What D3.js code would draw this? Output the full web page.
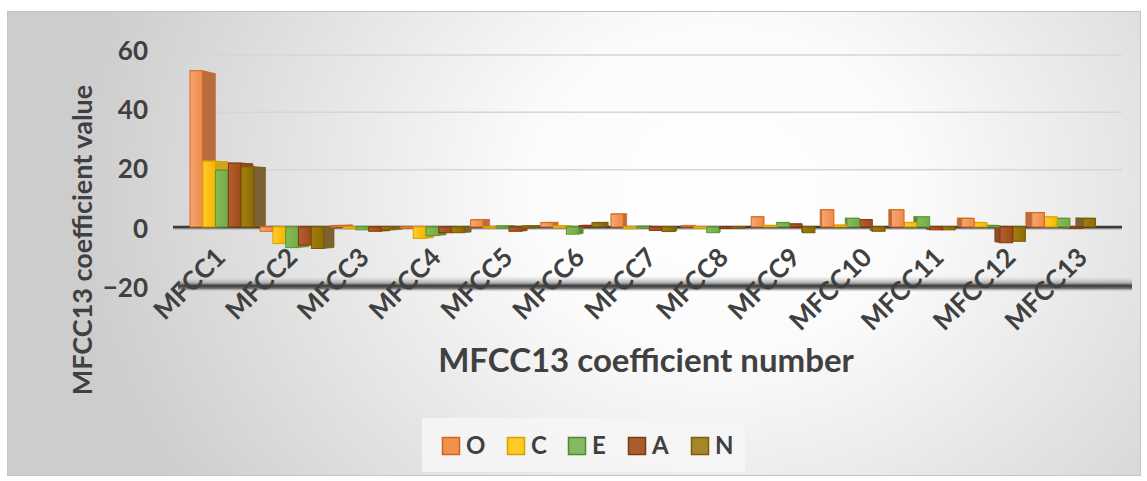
<!DOCTYPE html>
<html>
<head>
<meta charset="utf-8">
<script src="https://cdn.jsdelivr.net/npm/d3@7"></script>
<style>
  body { margin: 0; background: #ffffff; }
  text { font-family: Lato, "Open Sans", sans-serif; font-weight: 700; fill: #404040; }
</style>
</head>
<body>
<svg id="chart" width="1147" height="481"></svg>
<script>
// MFCC coefficient means per personality trait
const categories = ["MFCC1", "MFCC2", "MFCC3", "MFCC4", "MFCC5", "MFCC6", "MFCC7",
                    "MFCC8", "MFCC9", "MFCC10", "MFCC11", "MFCC12", "MFCC13"];
const seriesNames = ["O", "C", "E", "A", "N"];
const valuesO = [54.5, -1.5, 0.5, -0.5, 2.5, 1.5, 4.5, 0.4, 3.5, 6.0, 6.0, 3.0, 5.0];
const valuesC = [23.0, -5.8, -0.6, -4.0, -0.4, 0.3, -0.6, -0.5, 0.5, 0.6, 1.5, 1.5, 3.5];
const valuesE = [19.8, -7.2, -1.0, -3.0, 0.3, -2.5, 0.2, -2.0, 1.5, 3.0, 3.5, 0.5, 3.0];
const valuesA = [22.3, -6.3, -1.5, -2.0, -1.5, 0.5, -1.2, -0.5, 1.0, 2.5, -1.0, -5.5, -0.5];
const valuesN = [21.0, -7.5, -1.0, -2.0, 0.3, 1.5, -1.6, -0.5, -2.0, -1.5, -1.0, -5.0, 3.0];
const yTicks = [-20, 0, 20, 40, 60];

const seriesValues = [valuesO, valuesC, valuesE, valuesA, valuesN];
const palette = {
  O: { front: "#F08A48", light: "#F6A672", stroke: "#D5661C", side: "#B86C40", top: "#F4A06A", key: "#F0914F", keyStroke: "#D0641E" },
  C: { front: "#F5B800", light: "#FFCB2E", stroke: "#D9A000", side: "#CDA41E", top: "#FFD040", key: "#FFCA28", keyStroke: "#D4A000" },
  E: { front: "#72AC44", light: "#86BC5C", stroke: "#5A9430", side: "#5E8A38", top: "#8CC064", key: "#86BA62", keyStroke: "#4E8A2E" },
  A: { front: "#A04A1A", light: "#B0602E", stroke: "#84380E", side: "#8C4C26", top: "#B4643A", key: "#A85C30", keyStroke: "#7C3A12" },
  N: { front: "#8E6B00", light: "#A07E10", stroke: "#775A00", side: "#7C6232", top: "#A88A2A", key: "#A5862A", keyStroke: "#7A6010" }
};

const svg = d3.select("#chart");
const defs = svg.append("defs");

// chart area background: soft radial shading
const bg = defs.append("radialGradient").attr("id", "bgGrad")
  .attr("gradientUnits", "userSpaceOnUse")
  .attr("cx", 720).attr("cy", 190).attr("r", 650)
  .attr("gradientTransform", "translate(720,190) scale(1,0.85) translate(-720,-190)");
bg.append("stop").attr("offset", "0").attr("stop-color", "#ffffff");
bg.append("stop").attr("offset", "0.3").attr("stop-color", "#fbfbfb");
bg.append("stop").attr("offset", "1").attr("stop-color", "#cdcdcd");

svg.append("rect").attr("x", 7.5).attr("y", 11.5).attr("width", 1133).attr("height", 464)
  .attr("fill", "url(#bgGrad)").attr("stroke", "#c4c4c4").attr("stroke-width", 1);

// front-face gradients for each series
seriesNames.forEach(s => {
  const g = defs.append("linearGradient").attr("id", "grad" + s)
    .attr("x1", "0").attr("x2", "1").attr("y1", "0").attr("y2", "0");
  g.append("stop").attr("offset", "0").attr("stop-color", palette[s].light);
  g.append("stop").attr("offset", "1").attr("stop-color", palette[s].front);
});

// floor plate gradient
const fl = defs.append("linearGradient").attr("id", "floorGrad")
  .attr("x1", "0").attr("x2", "0").attr("y1", "0").attr("y2", "1");
fl.append("stop").attr("offset", "0").attr("stop-color", "#e6e6e6").attr("stop-opacity", 0.2);
fl.append("stop").attr("offset", "0.45").attr("stop-color", "#a8a8a8");
fl.append("stop").attr("offset", "0.62").attr("stop-color", "#3c3c3c");
fl.append("stop").attr("offset", "0.8").attr("stop-color", "#6a6a6a");
fl.append("stop").attr("offset", "1").attr("stop-color", "#d0d0d0").attr("stop-opacity", 0.3);

// scales
const y = d3.scaleLinear().domain([-20, 60]).range([284.3, 55]);      // bar values
const yWall = d3.scaleLinear().domain([-20, 60]).range([287, 50]);    // left wall edge
const x = d3.scaleBand().domain(categories).range([190, 1102]);
const xs = d3.scaleBand().domain(seriesNames).range([0, 64]);
const xLabel = d3.scalePoint().domain(categories).range([227, 1089]);

// perspective: faces recede towards a vanishing point
const vp = [767, 204];
const barShrink = 0.977;
const project = (px, py, s) => [vp[0] + (px - vp[0]) * s, vp[1] + (py - vp[1]) * s];
const pts = arr => "M" + arr.map(p => p.join(",")).join("L") + "Z";

const frontW = 12.5;
const wallLeft = 177, wallBack = 207, plotRight = 1122;

// gridlines on the back wall with the short side-wall segment
const gridVals = yTicks.filter(v => v > 0);
svg.append("g").selectAll("path").data(gridVals).join("path")
  .attr("d", v => `M${wallLeft},${yWall(v) - 3}L${wallBack},${y(v)}L${plotRight},${y(v)}`)
  .attr("fill", "none").attr("stroke", "#d6d6d6").attr("stroke-width", 1.5);

// floor at the axis minimum
svg.append("rect").attr("x", 178).attr("y", y(-20) - 8).attr("width", 954).attr("height", 15)
  .attr("fill", "url(#floorGrad)");

// zero baseline
svg.append("line").attr("x1", 173).attr("x2", plotRight).attr("y1", y(0) + 1.8).attr("y2", y(0) + 1.8)
  .attr("stroke", "#a0a0a0").attr("stroke-width", 1.5);
svg.append("line").attr("x1", 173).attr("x2", plotRight).attr("y1", y(0)).attr("y2", y(0))
  .attr("stroke", "#3a3a3a").attr("stroke-width", 2.5);

// bar geometry: front rectangle plus projected back face
const barData = [];
categories.forEach((c, i) => {
  seriesNames.forEach((s, j) => {
    const v = seriesValues[j][i];
    const x0 = x(c) + xs(s), x1 = x0 + frontW;
    const t = Math.min(y(v), y(0)), b = Math.max(y(v), y(0)) + (Math.abs(y(v) - y(0)) < 1 ? 1 : 0);
    barData.push({ cat: c, series: s, value: v, x0, x1, t, b, dist: Math.abs((x0 + x1) / 2 - vp[0]) });
  });
});
// paint far-from-centre bars first so nearer faces overlap them
barData.sort((a, b) => b.dist - a.dist);

const bars = svg.append("g").selectAll("g").data(barData).join("g");
// top face
bars.append("path")
  .attr("d", d => {
    const bl = project(d.x0, d.t, barShrink), br = project(d.x1, d.t, barShrink);
    return pts([[d.x0, d.t], [d.x1, d.t], br, bl]);
  })
  .attr("fill", d => palette[d.series].top)
  .attr("stroke", d => palette[d.series].stroke).attr("stroke-width", 0.6);
// side face (right of the vanishing point shows the left side, otherwise the right side)
bars.append("path")
  .attr("d", d => {
    const ex = (d.x1 < vp[0]) ? d.x1 : d.x0;
    const bt = project(ex, d.t, barShrink), bb = project(ex, d.b, barShrink);
    return pts([[ex, d.t], bt, bb, [ex, d.b]]);
  })
  .attr("fill", d => palette[d.series].side)
  .attr("stroke", d => palette[d.series].stroke).attr("stroke-width", 0.6);
// front face
bars.append("rect")
  .attr("x", d => d.x0)
  .attr("y", d => d.t)
  .attr("width", frontW)
  .attr("height", d => d.b - d.t)
  .attr("fill", d => `url(#grad${d.series})`)
  .attr("stroke", d => palette[d.series].stroke).attr("stroke-width", 1);

// value axis labels
const yAxis = svg.append("g").attr("transform", "translate(148,0)")
  .call(d3.axisLeft(yWall).tickValues(yTicks).tickSize(0).tickPadding(0).tickFormat(d3.format("d")));
yAxis.select(".domain").remove();
yAxis.selectAll("text").attr("font-size", 26).attr("dy", "0.36em")
  .style("font-family", "Lato, sans-serif").style("font-weight", 700).attr("fill", "#404040");

// category labels, slanted
const labelY = 259;
svg.append("g").selectAll("text").data(categories).join("text")
  .attr("x", c => xLabel(c)).attr("y", labelY)
  .attr("transform", c => `rotate(-45 ${xLabel(c)} ${labelY})`)
  .attr("text-anchor", "end")
  .attr("font-size", 26)
  .text(c => c);

// axis titles
svg.append("text").attr("x", 646).attr("y", 372).attr("text-anchor", "middle")
  .attr("font-size", 33).text("MFCC13 coefficient number");
svg.append("text").attr("transform", "translate(92,240) rotate(-90)").attr("text-anchor", "middle")
  .attr("font-size", 27).text("MFCC13 coefficient value");

// legend
svg.append("rect").attr("x", 422).attr("y", 418).attr("width", 323).attr("height", 54)
  .attr("fill", "#f5f5f5").attr("fill-opacity", 0.9);
const legendX = [442, 507, 568, 628, 691];
const legend = svg.append("g").selectAll("g").data(seriesNames).join("g")
  .attr("transform", (s, i) => `translate(${legendX[i]},437)`);
legend.append("rect").attr("x", 0.5).attr("y", 0.5).attr("width", 17).attr("height", 17)
  .attr("fill", s => palette[s].key).attr("stroke", s => palette[s].keyStroke).attr("stroke-width", 1.5);
legend.append("text").attr("x", 24).attr("y", 17).attr("font-size", 24).text(s => s);
</script>
</body>
</html>
